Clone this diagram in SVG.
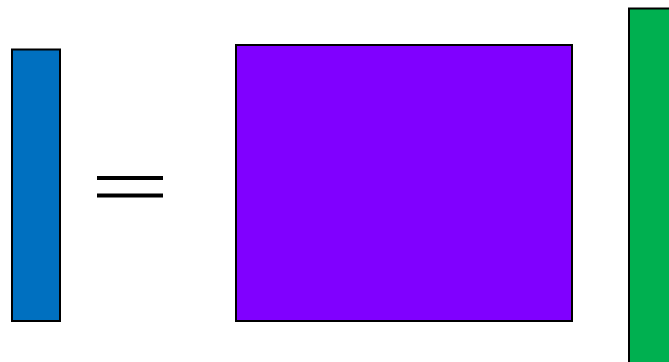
<svg xmlns="http://www.w3.org/2000/svg" width="669" height="362" viewBox="0 0 669 362">
<style>
.box{stroke:#000;stroke-width:2}
.eq{stroke:#000;stroke-width:4}
</style>
<rect width="669" height="362" fill="#fff"/>
<g id="blue"><rect class="box" x="12" y="49.5" width="48" height="271.5" fill="#0070C0"/></g>
<g id="equals"><line class="eq" x1="97" y1="178" x2="163" y2="178"/><line class="eq" x1="97" y1="195.5" x2="163" y2="195.5"/></g>
<g id="purple"><rect class="box" x="236" y="45" width="336" height="276" fill="#8000FF"/></g>
<g id="green"><rect class="box" x="629" y="8.5" width="60" height="370" fill="#00B050"/></g>
<g id="connectors"/>
</svg>
